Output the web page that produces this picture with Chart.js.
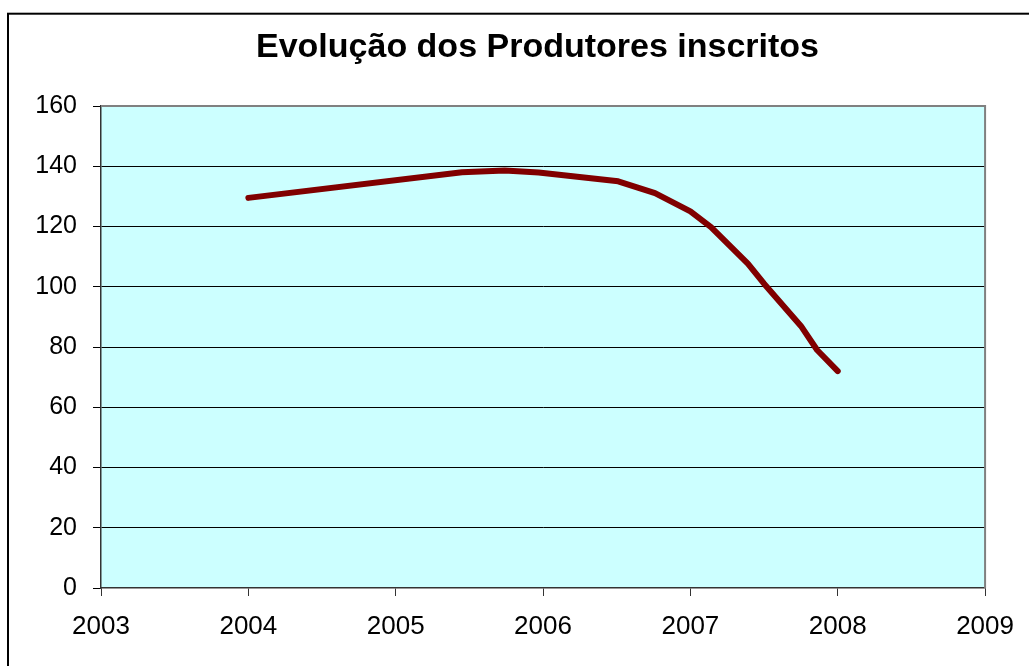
<!DOCTYPE html>
<html>
<head>
<meta charset="utf-8">
<script src="https://cdn.jsdelivr.net/npm/chart.js@4/dist/chart.umd.min.js"></script>
<style>
html,body{margin:0;padding:0;background:#fff;}
#wrap{position:relative;width:1029px;height:666px;}
</style>
</head>
<body>
<div id="wrap"><canvas id="c" width="1029" height="666"></canvas></div>
<script>
const chartTitle = "Evolução dos Produtores inscritos";
const years = [2004, 2005.45, 2005.74, 2005.97, 2006.51, 2006.76, 2007.0, 2007.14, 2007.39, 2007.5, 2007.75, 2007.86, 2008.0];
const produtores = [129.5, 138.0, 138.6, 137.9, 135.0, 131.1, 125.0, 119.8, 107.7, 101.0, 87.0, 79.0, 72.0];
const xTicks = [2003, 2004, 2005, 2006, 2007, 2008, 2009];
const yTicks = [0, 20, 40, 60, 80, 100, 120, 140, 160];

const points = years.map((x, i) => ({x: x, y: produtores[i]}));

const decor = {
  id: 'decor',
  beforeDraw(chart) {
    const {ctx, chartArea: a} = chart;
    ctx.save();
    ctx.fillStyle = '#CCFFFF';
    ctx.fillRect(a.left, a.top, a.right - a.left, a.bottom - a.top);
    ctx.restore();
  },
  afterDatasetsDraw(chart) {
    const {ctx, chartArea: a} = chart;
    ctx.save();
    ctx.strokeStyle = '#808080';
    ctx.lineWidth = 2;
    ctx.beginPath();
    ctx.moveTo(a.left, a.top);
    ctx.lineTo(a.right, a.top);
    ctx.lineTo(a.right, a.bottom);
    ctx.stroke();
    ctx.strokeStyle = '#000';
    ctx.lineWidth = 2;
    ctx.strokeRect(8, 13.7, 1200, 800);
    ctx.fillStyle = '#000';
    ctx.font = 'bold 34px "Liberation Sans", Arial, sans-serif';
    ctx.textAlign = 'center';
    ctx.textBaseline = 'middle';
    ctx.fillText(chartTitle, 537.5, 48);
    ctx.restore();
  }
};

new Chart(document.getElementById('c'), {
  type: 'line',
  data: {
    datasets: [{
      label: 'Produtores inscritos',
      data: points,
      borderColor: '#800000',
      borderWidth: 6,
      borderCapStyle: 'round',
      borderJoinStyle: 'round',
      pointRadius: 0,
      fill: false,
      tension: 0
    }]
  },
  options: {
    responsive: false,
    animation: false,
    layout: {padding: {top: 106, left: 0, right: 40, bottom: 0}},
    plugins: {legend: {display: false}, title: {display: false}, tooltip: {enabled: false}},
    scales: {
      x: {
        type: 'linear',
        min: 2003, max: 2009,
        afterFit(s) { s.height = 78; },
        afterBuildTicks(s) { s.ticks = xTicks.map(v => ({value: v})); },
        grid: {display: true, drawOnChartArea: false, drawTicks: true, tickLength: 8, tickColor: '#333', color: '#333'},
        border: {display: true, color: '#333', width: 1.5},
        ticks: {
          padding: 15,
          color: '#000',
          font: {family: '"Liberation Sans", Arial, sans-serif', size: 26},
          callback: v => String(v),
          maxRotation: 0
        }
      },
      y: {
        min: 0, max: 160,
        afterFit(s) { s.width = 101; },
        afterBuildTicks(s) { s.ticks = yTicks.map(v => ({value: v})); },
        grid: {
          display: true, drawTicks: true, tickLength: 8, tickColor: '#000',
          color: c => (c.tick && (c.tick.value === 160 || c.tick.value === 0)) ? 'rgba(0,0,0,0)' : '#000',
          lineWidth: 1
        },
        border: {display: true, color: '#333', width: 1.5},
        ticks: {
          padding: 16,
          color: '#000',
          font: {family: '"Liberation Sans", Arial, sans-serif', size: 25},
          callback: v => String(v)
        }
      }
    }
  },
  plugins: [decor]
});
</script>
</body>
</html>
